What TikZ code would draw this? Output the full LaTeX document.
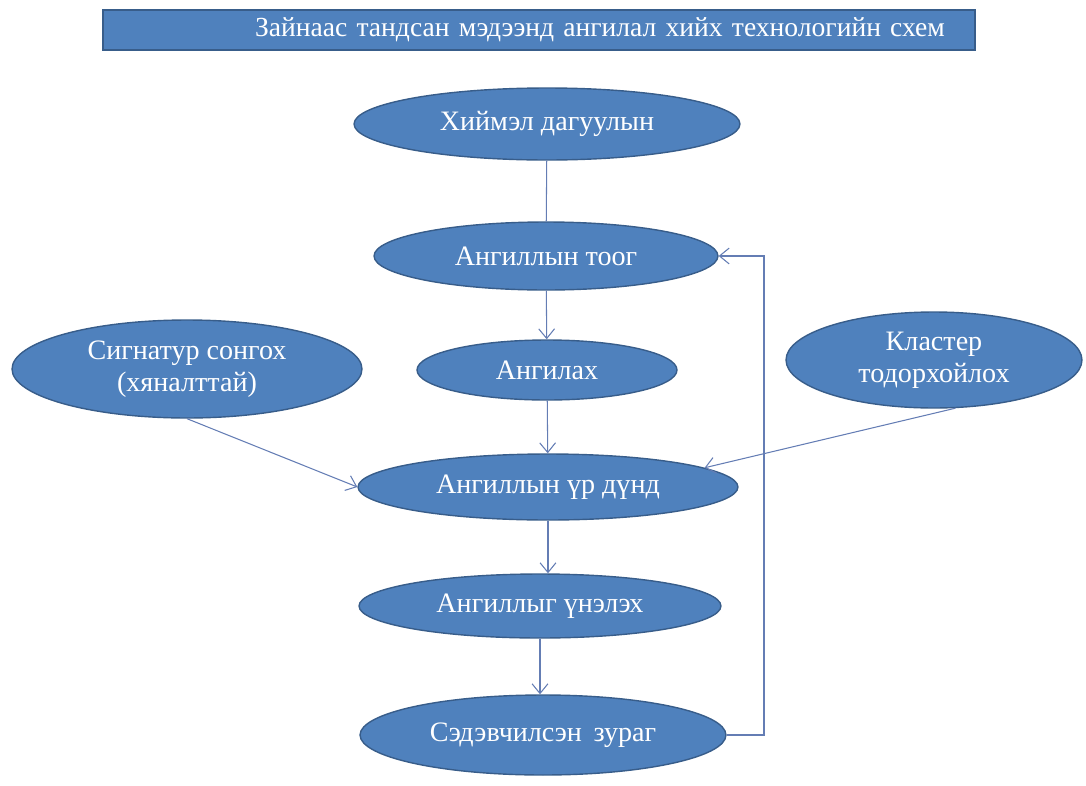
\documentclass[tikz,border=0pt]{standalone}
\usepackage{fontspec}
\setmainfont{Liberation Serif}
\usetikzlibrary{shapes.geometric,arrows.meta}
\definecolor{ovalfill}{RGB}{79,129,189}
\definecolor{ovaldraw}{RGB}{56,93,138}
\definecolor{linecol}{RGB}{100,125,180}
\tikzset{
  oval/.style={ellipse,fill=ovalfill,draw=ovaldraw,line width=0.8pt,text=white,
    inner sep=0pt,align=center,font=\fontsize{16}{18}\selectfont},
  arr/.style={draw=linecol,line width=0.6pt,-{Straight Barb[length=5.5pt,width=9pt]}},
  ln/.style={draw=linecol,line width=0.6pt}
}
\begin{document}
\begin{tikzpicture}[x=0.02cm,y=-0.02cm]
    \useasboundingbox (0,0) rectangle (1086,785);
    \node[fill=ovalfill,draw=ovaldraw,line width=0.8pt,text=white,minimum width=17.44cm,minimum height=0.8cm,
      inner xsep=0.6cm,text width=16.24cm,align=right,font=\fontsize{15.7}{17}\selectfont] (title) at (539,30)
      {Зайнаас тандсан мэдээнд ангилал хийх технологийн схем};
    \node[oval,minimum width=7.72cm,minimum height=1.44cm] (sat) at (547,124) {Хиймэл дагуулын};
    \node[oval,minimum width=6.88cm,minimum height=1.36cm] (too) at (546,256) {Ангиллын тоог};
    \node[oval,minimum width=5.2cm,minimum height=1.2cm] (angilah) at (547,370) {Ангилах};
    \node[oval,minimum width=7cm,minimum height=1.96cm] (sign) at (187,369) {Сигнатур сонгох\\(хяналттай)};
    \node[oval,minimum width=5.92cm,minimum height=1.92cm] (klast) at (934,360) {Кластер\\тодорхойлох};
    \node[oval,minimum width=7.6cm,minimum height=1.32cm] (ur) at (548,487) {Ангиллын үр дүнд};
    \node[oval,minimum width=7.24cm,minimum height=1.28cm] (unel) at (540,606) {Ангиллыг үнэлэх};
    \node[oval,minimum width=7.32cm,minimum height=1.6cm] (zurag) at (543,735) {Сэдэвчилсэн\, зураг};
    \coordinate (fb) at (764,735);
    % connectors
    \draw[ln] (sat) -- (too);
    \draw[arr] (too) -- (angilah);
    \draw[arr] (angilah) -- (ur);
    \draw[arr] (sign.south) -- (ur.west);
    \draw[arr] (klast.-66) -- (ur.7);
    \draw[arr] (ur) -- (ur |- unel.north);
    \draw[arr] (unel) -- (unel |- zurag.north);
    \draw[arr] (zurag.east) -- (fb) |- (too.east);
\end{tikzpicture}
\end{document}
